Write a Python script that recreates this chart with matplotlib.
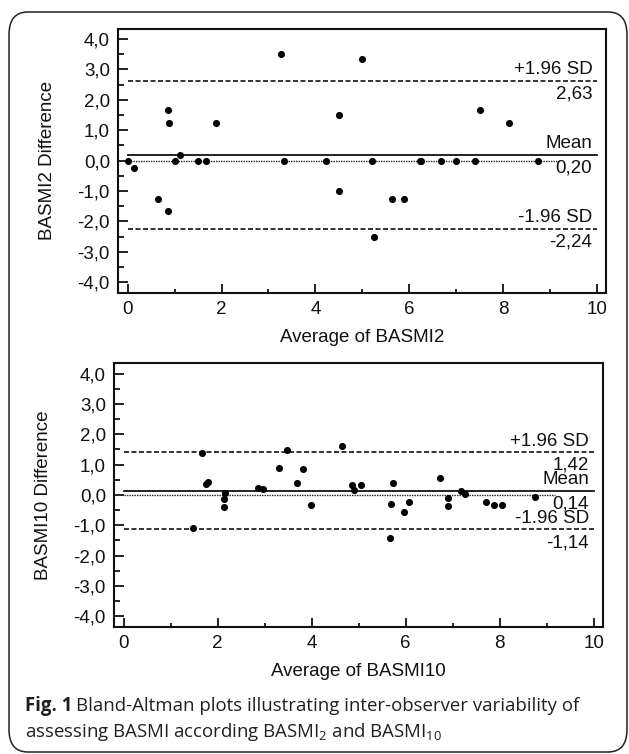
import matplotlib
matplotlib.use('Agg')
import matplotlib.pyplot as plt
from matplotlib.patches import FancyBboxPatch
from matplotlib.ticker import MultipleLocator, FuncFormatter

plt.rcParams['font.family'] = ['Liberation Sans', 'DejaVu Sans']
plt.rcParams['mathtext.fontset'] = 'custom'
plt.rcParams['mathtext.rm'] = 'Open Sans'

# BASMI2 : average vs difference
avg2 = [0.0, 0.14, 0.64, 0.85, 0.88, 0.85, 1.01, 1.12, 1.5, 1.68, 1.89,
        3.27, 3.34, 4.22, 4.51, 4.51, 5.0, 5.21, 5.25, 5.64, 5.88,
        6.22, 6.25, 6.68, 7.0, 7.41, 7.5, 8.13, 8.75]
diff2 = [0.0, -0.25, -1.25, 1.67, 1.25, -1.67, 0.0, 0.2, 0.0, 0.0, 1.25,
         3.5, 0.0, 0.0, 1.5, -1.0, 3.33, 0.0, -2.5, -1.25, -1.25,
         0.0, 0.0, 0.0, 0.0, 0.0, 1.67, 1.25, 0.0]
mean2, upper2, lower2 = 0.20, 2.63, -2.24

# BASMI10 : average vs difference
avg10 = [1.48, 1.66, 1.76, 1.79, 2.15, 2.14, 2.14, 2.85, 2.96, 3.30, 3.47,
         3.68, 3.81, 3.98, 4.64, 4.86, 4.91, 5.06, 5.66, 5.69, 5.73, 5.97,
         6.08, 6.73, 6.90, 6.91, 7.18, 7.26, 7.70, 7.88, 8.04, 8.75]
diff10 = [-1.10, 1.38, 0.36, 0.41, 0.07, -0.14, -0.40, 0.22, 0.20, 0.90, 1.47,
          0.40, 0.87, -0.33, 1.62, 0.34, 0.17, 0.31, -1.42, -0.31, 0.38, -0.57,
          -0.24, 0.55, -0.09, -0.38, 0.12, 0.02, -0.25, -0.35, -0.34, -0.07]
mean10, upper10, lower10 = 0.14, 1.42, -1.14

FS = 13.5


def comma(v, pos):
    return ('%.1f' % v).replace('.', ',')


def bland_altman(ax, x, y, mean, upper, lower, xlab, ylab, zero_end):
    ax.set_xlim(-0.2, 10.2)
    ax.set_ylim(-4.35, 4.35)
    ax.plot([0, zero_end], [0, 0], color='#222222', lw=1.0, ls=(0, (1, 0.8)))
    ax.plot([0, 10], [mean, mean], color='#111111', lw=1.3)
    for v in (upper, lower):
        ax.plot([0, 10], [v, v], color='#111111', lw=1.2, ls=(0, (3, 1.5)))
    ax.scatter(x, y, s=26, color='black', zorder=3, linewidths=0)

    # labels above / below the reference lines (they overlap in the
    # lower panel just like in the original figure)
    kw = dict(ha='right', fontsize=FS, color='#111111')
    lines = [('+1.96 SD', upper), ('Mean', mean), ('-1.96 SD', lower)]
    for name, v in lines:
        ax.annotate(name, (9.9, v), xytext=(0, 4.5), textcoords='offset points',
                    va='baseline', **kw)
        ax.annotate(('%.2f' % v).replace('.', ','), (9.9, v), xytext=(0, -3.5),
                    textcoords='offset points', va='top', **kw)

    ax.xaxis.set_major_locator(MultipleLocator(2))
    ax.xaxis.set_minor_locator(MultipleLocator(1))
    ax.yaxis.set_major_locator(MultipleLocator(1))
    ax.yaxis.set_minor_locator(MultipleLocator(0.5))
    ax.yaxis.set_major_formatter(FuncFormatter(comma))
    ax.tick_params(which='both', direction='in', width=1.3, labelsize=FS,
                   colors='#111111')
    ax.tick_params(axis='y', which='major', length=7, pad=6)
    ax.tick_params(axis='y', which='minor', length=4.5)
    ax.tick_params(axis='x', which='major', length=6.5, pad=6)
    ax.tick_params(axis='x', which='minor', length=3)
    for sp in ax.spines.values():
        sp.set_linewidth(1.5)
        sp.set_color('#111111')
    ax.set_xlabel(xlab, fontsize=FS, color='#111111')
    ax.set_ylabel(ylab, fontsize=FS, color='#111111')
    ax.xaxis.set_label_coords(0.5, -0.171)
    ax.xaxis.label.set_va('center')
    ax.yaxis.set_label_coords(-0.145, 0.5)
    ax.yaxis.label.set_va('center')


fig = plt.figure(figsize=(6.29, 7.54), dpi=100)

box = FancyBboxPatch((9 / 629, 1 - 752 / 754), 618 / 629, 740 / 754,
                     boxstyle='round,pad=0,rounding_size=0.03',
                     transform=fig.transFigure, fill=False,
                     edgecolor='#222222', linewidth=1.1)
fig.patches.append(box)

ax1 = fig.add_axes([0.188, 0.6118, 0.776, 0.3504])
bland_altman(ax1, avg2, diff2, mean2, upper2, lower2,
             'Average of BASMI2', 'BASMI2 Difference', 9.22)

ax2 = fig.add_axes([0.1817, 0.1688, 0.777, 0.3497])
bland_altman(ax2, avg10, diff10, mean10, upper10, lower10,
             'Average of BASMI10', 'BASMI10 Difference', 9.18)

# caption: bold "Fig. 1" followed by regular text
cap = dict(fontsize=13.4, color='#231f20', family='Open Sans', va='baseline')
y1 = 1 - 711 / 754
bold = fig.text(25 / 629, y1, 'Fig. 1', weight='bold', **cap)
fig.canvas.draw()
bb = bold.get_window_extent()
fig.text((bb.x1 + 4) / 629, y1,
         'Bland-Altman plots illustrating inter-observer variability of', **cap)
fig.text(25 / 629, 1 - 737 / 754,
         r'assessing BASMI according BASMI$_{2}$ and BASMI$_{10}$', **cap)

fig.savefig('out.png', dpi=100)
